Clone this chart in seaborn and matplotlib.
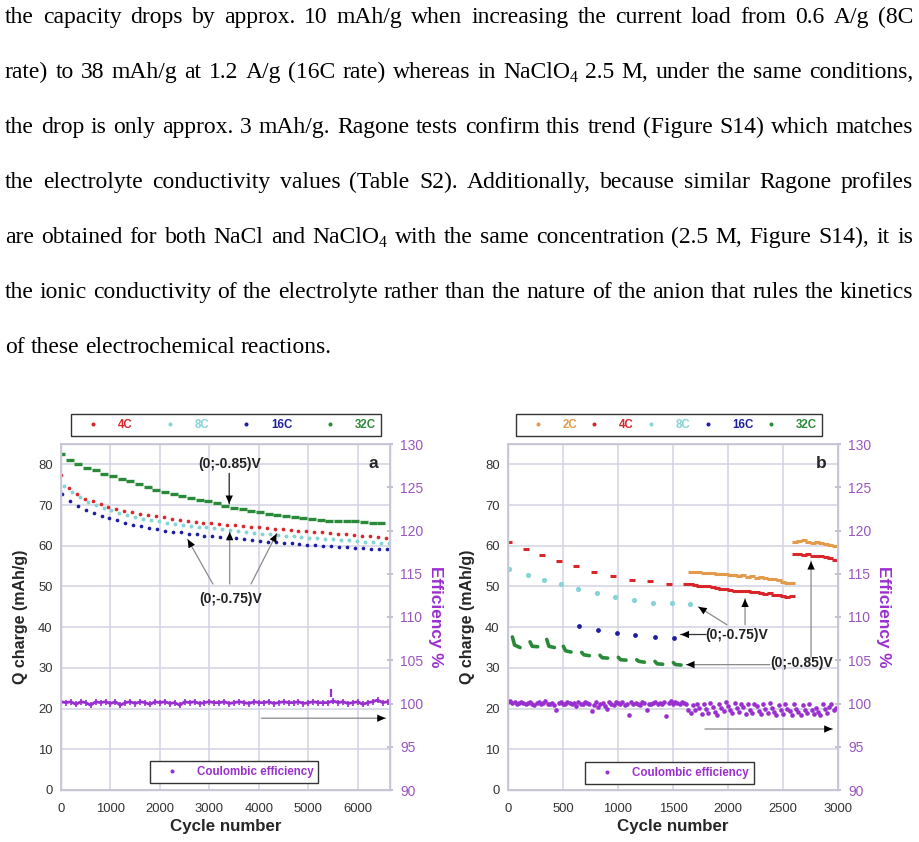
import matplotlib
matplotlib.use("Agg")
import matplotlib.pyplot as plt
import numpy as np
import pandas as pd
import seaborn as sns
from matplotlib.lines import Line2D

sns.set_theme(style="white")
plt.rcParams["font.family"] = ["Liberation Sans", "DejaVu Sans"]

# paragraph above the figure ("_4" marks a subscript 4)
paragraph = [
    "the capacity drops by approx. 10 mAh/g when increasing the current load from 0.6 A/g (8C",
    "rate) to 38 mAh/g at 1.2 A/g (16C rate) whereas in NaClO_4 2.5 M, under the same conditions,",
    "the drop is only approx. 3 mAh/g. Ragone tests confirm this trend (Figure S14) which matches",
    "the electrolyte conductivity values (Table S2). Additionally, because similar Ragone profiles",
    "are obtained for both NaCl and NaClO_4 with the same concentration (2.5 M, Figure S14), it is",
    "the ionic conductivity of the electrolyte rather than the nature of the anion that rules the kinetics",
    "of these electrochemical reactions.",
]

# ---- panel a: NaCl, 6600 cycles ----
cyc_a_dots = np.arange(0, 6561, 160)
red_a = [77.3, 74.2, 72.6, 71.6, 71.0, 70.3, 69.6, 69.0, 68.5, 68.2,
         67.9, 67.6, 67.3, 67.0, 66.6, 66.3, 66.1, 65.9, 65.7, 65.6,
         65.4, 65.2, 65.0, 64.9, 64.7, 64.5, 64.4, 64.2, 64.0, 63.9,
         63.7, 63.6, 63.5, 63.3, 63.2, 63.0, 62.9, 62.7, 62.5, 62.3,
         62.2, 62.0]
cyan_a = [74.8, 73.2, 71.9, 70.8, 70.0, 69.3, 68.7, 68.1, 67.5, 67.0,
          66.6, 66.3, 66.0, 65.7, 65.4, 65.2, 64.9, 64.7, 64.5, 64.3,
          64.1, 63.9, 63.7, 63.5, 63.2, 63.0, 62.8, 62.6, 62.5, 62.3,
          62.2, 62.0, 61.9, 61.7, 61.6, 61.4, 61.3, 61.1, 61.0, 60.9,
          60.8, 60.7]
blue_a = [72.6, 71.0, 69.8, 68.9, 68.1, 67.4, 66.8, 66.3, 65.7, 65.2,
          64.8, 64.4, 64.0, 63.7, 63.5, 63.3, 63.0, 62.8, 62.5, 62.3,
          62.1, 62.0, 61.8, 61.6, 61.4, 61.2, 61.0, 60.9, 60.7, 60.6,
          60.5, 60.3, 60.2, 60.0, 59.9, 59.8, 59.6, 59.5, 59.4, 59.3,
          59.2, 59.1]
cyc_a_green = np.arange(0, 6476, 175)
green_a = [82.5, 81.0, 80.0, 79.2, 78.5, 77.7, 77.1, 76.5, 75.8, 75.2,
           74.5, 73.8, 73.3, 72.8, 72.3, 71.8, 71.3, 70.9, 70.4, 69.8,
           69.4, 69.0, 68.6, 68.2, 67.9, 67.6, 67.3, 67.0, 66.8, 66.6,
           66.4, 66.2, 66.1, 66.1, 66.0, 65.8, 65.7, 65.5]
cyc_a_eff = np.arange(0, 6601, 100)
eff_a = [100.2, 100.1, 100.2, 99.9, 100.2, 100.1, 99.8, 100.2, 100.1, 100.2,
         100.0, 100.2, 99.8, 100.1, 100.2, 100.0, 100.2, 100.1, 99.9, 100.2,
         100.1, 100.2, 100.0, 100.1, 99.8, 100.2, 100.1, 100.2, 100.0, 100.1,
         100.2, 100.1, 100.1, 100.2, 100.0, 100.1, 100.2, 100.1, 100.0, 100.2,
         100.1, 100.1, 100.2, 100.0, 100.1, 100.2, 100.1, 100.1, 100.2, 100.0,
         100.1, 100.2, 100.1, 100.1, 100.1, 100.3, 100.1, 100.2, 100.0, 100.1,
         100.2, 99.9, 100.1, 100.2, 100.4, 100.1, 100.2]
spike_a_cyc = [5450]
spike_a_eff = [101.2]

# ---- panel b: NaClO4, 3000 cycles ----
red_b_cyc = [5, 160, 310, 460, 620, 785, 955, 1130, 1290, 1465,
             1620, 1660, 1700, 1740, 1780, 1820, 1860, 1900, 1940, 1980,
             2020, 2060, 2100, 2140, 2180, 2220, 2260, 2300, 2340, 2380,
             2420, 2460, 2500, 2540, 2580,
             2610, 2650, 2690, 2730, 2770, 2810, 2850, 2890, 2930, 2970]
red_b = [60.9, 59.3, 57.7, 56.3, 55.0, 53.6, 52.5, 51.7, 51.3, 50.5,
         50.5, 50.7, 50.4, 50.2, 50.0, 50.0, 49.8, 49.6, 49.5, 49.3,
         49.2, 49.0, 48.9, 48.8, 48.9, 48.6, 48.6, 48.4, 48.2, 48.3,
         48.0, 47.9, 47.6, 47.5, 47.6,
         57.9, 57.9, 57.7, 58.0, 57.6, 57.5, 57.4, 57.3, 57.0, 56.6]
orange_b_cyc = [1660, 1700, 1740, 1780, 1820, 1860, 1900, 1940, 1980, 2020,
                2060, 2100, 2140, 2180, 2220, 2260, 2300, 2340, 2380, 2420,
                2460, 2500, 2540, 2580,
                2610, 2650, 2690, 2730, 2770, 2810, 2850, 2890, 2930, 2970]
orange_b = [53.6, 53.5, 53.6, 53.4, 53.3, 53.4, 53.1, 53.0, 53.1, 52.8,
            52.9, 52.6, 52.7, 52.4, 52.5, 52.2, 52.3, 52.0, 51.8, 51.9,
            51.5, 51.2, 50.9, 50.8,
            60.9, 61.2, 61.4, 61.0, 60.8, 60.9, 60.6, 60.5, 60.3, 59.9]
cyan_b_cyc = [10, 180, 330, 480, 636, 805, 970, 1145, 1318, 1488, 1655]
cyan_b = [54.4, 52.9, 51.7, 50.7, 49.5, 48.3, 47.3, 46.6, 46.0, 46.0, 45.8]
blue_b_cyc = [645, 818, 990, 1155, 1336, 1509]
blue_b = [40.2, 39.4, 38.6, 38.0, 37.5, 37.4]
green_b_block = [1, 1, 1, 2, 2, 2, 3, 3, 3, 4, 4, 4, 5, 5, 5,
                 6, 6, 6, 7, 7, 7, 8, 8, 8, 9, 9, 9, 10, 10, 10]
green_b_cyc = [40, 60, 110, 200, 220, 270, 352, 372, 422, 503, 523, 573,
               670, 690, 740, 836, 856, 906, 1003, 1023, 1073, 1170, 1190, 1240,
               1336, 1356, 1406, 1503, 1523, 1573]
green_b = [37.6, 35.6, 35.0, 36.4, 35.3, 35.2, 37.0, 35.3, 35.0, 35.3, 34.2, 33.9,
           33.8, 33.2, 33.0, 33.1, 32.5, 32.4, 32.6, 32.0, 31.9, 32.0, 31.6, 31.4,
           31.6, 31.0, 30.9, 31.3, 30.8, 30.7]
cyc_b_eff = np.arange(0, 2981, 20)
eff_b = [100.2, 100.3, 100.1, 100.2, 100.0, 100.1, 100.2, 100.1, 99.9, 100.1,
         100.2, 100.0, 99.8, 100.1, 100.2, 100.0, 100.1, 100.3, 99.9, 100.0,
         100.1, 99.8, 99.3, 100.1, 100.2, 100.0, 99.9, 100.2, 100.1, 100.0,
         100.1, 99.7, 100.2, 100.0, 99.9, 100.2, 100.1, 100.0, 99.1, 99.8,
         100.2, 99.6, 99.9, 100.1, 99.7, 99.4, 100.2, 100.0, 99.8, 100.2,
         100.1, 99.9, 100.2, 99.8, 100.0, 98.7, 100.2, 99.9, 100.1, 100.0,
         99.8, 100.2, 100.1, 99.2, 100.0, 99.9, 100.1, 100.2, 99.9, 100.1,
         100.0, 100.2, 98.6, 100.1, 100.3, 100.0, 100.2, 100.1, 100.0, 100.2,
         100.1, 100.0, 99.3, 98.9, 99.8, 99.2, 100.0, 99.5, 98.8, 99.9,
         99.4, 98.9, 100.1, 99.6, 99.0, 98.7, 100.0, 99.5, 99.1, 100.2,
         99.7, 99.2, 98.9, 100.1, 99.5, 99.0, 100.0, 99.6, 98.8, 99.9,
         99.3, 98.9, 100.0, 99.7, 99.1, 98.8, 99.9, 99.4, 98.9, 100.1,
         99.5, 99.0, 98.7, 99.8, 99.3, 98.8, 100.0, 99.4, 99.1, 98.7,
         99.9, 99.4, 99.0, 98.7, 99.8, 99.2, 98.9, 99.9, 99.3, 98.8,
         99.5, 99.0, 98.7, 99.9, 99.4, 98.9, 99.6, 100.0, 99.2, 99.5]

RED, CYAN, BLUE, GREEN = "#d9262b", "#86d4d6", "#1f1f9e", "#2b8a3a"
ORANGE, PURPLE, PURPLE_T = "#e39a4a", "#9a2fd0", "#9b55bd"
GRID = "#d3d3e3"

fig = plt.figure(figsize=(9.2, 8.42), dpi=100)
W, H = 920, 842

# justified paragraph, words placed one by one
renderer = fig.canvas.get_renderer()
x_left, x_right = 5, 913
serif = dict(fontfamily="Liberation Serif", color="black", va="baseline")
for i, line in enumerate(paragraph):
    yb = 23 + 55 * i
    words = []
    for w in line.split():
        parts = w.split("_")
        objs = [fig.text(0, 1 - yb / H, parts[0], fontsize=17.0, **serif)]
        if len(parts) > 1:
            objs.append(fig.text(0, 1 - (yb + 4) / H, parts[1], fontsize=11.5, **serif))
        ws = [o.get_window_extent(renderer).width for o in objs]
        words.append((objs, ws))
    total = sum(sum(ws) for _, ws in words)
    if i < len(paragraph) - 1:
        gap = (x_right - x_left - total) / (len(words) - 1)
    else:
        gap = 5.9
    x = x_left
    for objs, ws in words:
        for o, wd in zip(objs, ws):
            o.set_x(x / W)
            x += wd
        x += gap

ax_a = fig.add_axes([61 / W, 52 / H, 329 / W, 346 / H])
ax_b = fig.add_axes([508 / W, 52 / H, 330 / W, 346 / H])


def style_axes(ax, xmax, xstep):
    ax.set_xlim(0, xmax)
    ax.set_ylim(0, 85)
    ax.set_xticks(np.arange(0, xmax + 1, xstep))
    ax.set_yticks(np.arange(0, 81, 10))
    ax.grid(True, color=GRID, lw=1.1)
    ax.set_axisbelow(True)
    for s in ax.spines.values():
        s.set_color("#c6c6d6")
        s.set_linewidth(1.0)
    ax.tick_params(axis="both", length=0, labelsize=9.4, labelcolor="#333333")
    ax.tick_params(axis="x", pad=9)
    ax.tick_params(axis="y", pad=6)
    axr = ax.twinx()
    axr.set_ylim(90, 130)
    axr.set_yticks(np.arange(90, 131, 5))
    axr.tick_params(axis="y", direction="inout", length=5, color="#b8b8c8",
                    labelsize=10, labelcolor=PURPLE_T, pad=5)
    for s in axr.spines.values():
        s.set_color("#c6c6d6")
    axr.grid(False)
    return axr


axr_a = style_axes(ax_a, 6650, 1000)
axr_b = style_axes(ax_b, 3000, 500)
ax_a.set_xticks(np.arange(0, 6001, 1000))

# panel a marks
sns.scatterplot(x=cyc_a_dots, y=red_a, ax=ax_a, color=RED, s=7, linewidth=0)
sns.scatterplot(x=cyc_a_dots + 60, y=cyan_a, ax=ax_a, color=CYAN, s=8, linewidth=0)
sns.scatterplot(x=cyc_a_dots + 20, y=blue_a, ax=ax_a, color=BLUE, s=7, linewidth=0)
sns.scatterplot(x=cyc_a_green, y=green_a, ax=ax_a, color=GREEN, marker="_", s=30,
                linewidth=2.4, edgecolor=GREEN)
sns.lineplot(x=cyc_a_eff, y=eff_a, ax=axr_a, color=PURPLE, lw=2.0)
sns.scatterplot(x=cyc_a_eff, y=eff_a, ax=axr_a, color=PURPLE, marker="|", s=14,
                linewidth=1.2, edgecolor=PURPLE)
sns.scatterplot(x=spike_a_cyc, y=spike_a_eff, ax=axr_a, color=PURPLE, marker="|", s=40,
                linewidth=1.6, edgecolor=PURPLE)

# panel b marks
sns.scatterplot(x=red_b_cyc, y=red_b, ax=ax_b, color=RED, marker="_", s=16,
                linewidth=2.2, edgecolor=RED)
sns.scatterplot(x=orange_b_cyc, y=orange_b, ax=ax_b, color=ORANGE, marker="_", s=16,
                linewidth=2.2, edgecolor=ORANGE)
sns.scatterplot(x=cyan_b_cyc, y=cyan_b, ax=ax_b, color=CYAN, s=14, linewidth=0)
sns.scatterplot(x=blue_b_cyc, y=blue_b, ax=ax_b, color=BLUE, s=12, linewidth=0)
green_df = pd.DataFrame({"cycle": green_b_cyc, "q": green_b, "block": green_b_block})
sns.lineplot(data=green_df, x="cycle", y="q", units="block", estimator=None, ax=ax_b,
             color=GREEN, lw=2.6)
sns.scatterplot(x=cyc_b_eff, y=eff_b, ax=axr_b, color=PURPLE, s=11, linewidth=0)

for axr in (axr_a, axr_b):
    axr.set_xlabel("")
    axr.set_ylabel("Efficiency %", fontsize=12.4, fontweight="bold", color=PURPLE,
                   rotation=270, va="bottom", labelpad=3)
for ax in (ax_a, ax_b):
    ax.set_xlabel("Cycle number", fontsize=12.2, fontweight="bold", labelpad=3)
    ax.set_ylabel("Q charge (mAh/g)", fontsize=11.5, fontweight="bold", labelpad=7)

# panel letters
ax_a.text(0.965, 0.945, "a", transform=ax_a.transAxes, ha="right", va="center",
          fontsize=12.5, fontweight="bold")
ax_b.text(0.965, 0.945, "b", transform=ax_b.transAxes, ha="right", va="center",
          fontsize=12.5, fontweight="bold")

ann = dict(fontsize=10, fontweight="bold", color="#222222", ha="center", va="center")


def arrow(ax, start, tip, line_color="#8a8a8a"):
    ax.annotate("", xy=tip, xytext=start,
                arrowprops=dict(arrowstyle="-", color=line_color, lw=0.9, shrinkA=0, shrinkB=0))
    ax.annotate("", xy=tip, xytext=start,
                arrowprops=dict(arrowstyle="-|>,head_length=0.5,head_width=0.22",
                                color="black", lw=0, shrinkA=0, shrinkB=0))


# panel a annotations
ax_a.text(3400, 80.2, "(0;-0.85)V", **ann)
arrow(ax_a, (3400, 77.8), (3400, 70.3), line_color="#222222")
ax_a.text(3420, 47.0, "(0;-0.75)V", **ann)
arrow(ax_a, (3070, 50.6), (2560, 61.6))
arrow(ax_a, (3410, 50.6), (3410, 63.4))
arrow(ax_a, (3840, 50.6), (4360, 63.0))
arrow(axr_a, (4050, 98.3), (6560, 98.3))

# panel b annotations
ax_b.text(2082, 38.0, "(0;-0.75)V", **ann)
arrow(ax_b, (1800, 38.2), (1570, 38.2), line_color="#333333")
arrow(ax_b, (1990, 40.6), (1730, 45.0))
arrow(ax_b, (2155, 40.6), (2155, 47.0))
ax_b.text(2673, 31.2, "(0;-0.85)V", **ann)
arrow(ax_b, (2380, 30.8), (1620, 30.8))
arrow(ax_b, (2755, 32.6), (2755, 56.2))
arrow(axr_b, (1790, 97.05), (2950, 97.05))

# legends


def dot(c):
    return Line2D([], [], marker="o", ls="", color=c, markersize=1.9)


def box_legend(handles, labels, colors, x0, y0, x1, y1):
    leg = fig.legend(handles, labels, loc="center", ncol=len(labels), mode="expand",
                     bbox_to_anchor=(x0 / W, 1 - y1 / H, (x1 - x0) / W, (y1 - y0) / H),
                     frameon=True, fancybox=False, edgecolor="#333333", framealpha=1,
                     prop=dict(weight="bold", size=8.3), handletextpad=0.7,
                     handlelength=2.9, borderaxespad=0, borderpad=0.45)
    leg.get_frame().set_linewidth(1.0)
    for t, c in zip(leg.get_texts(), colors):
        t.set_color(c)
    return leg


rates_a = ["4C", "8C", "16C", "32C"]
cols_a = [RED, CYAN, BLUE, GREEN]
box_legend([dot(c) for c in cols_a], rates_a, cols_a, 71, 413, 381, 437)
rates_b = ["2C", "4C", "8C", "16C", "32C"]
cols_b = [ORANGE, RED, CYAN, BLUE, GREEN]
box_legend([dot(c) for c in cols_b], rates_b, cols_b, 516, 413, 822, 437)
box_legend([dot(PURPLE)], ["Coulombic efficiency"], [PURPLE], 150, 760, 318, 784)
box_legend([dot(PURPLE)], ["Coulombic efficiency"], [PURPLE], 585, 761, 754, 785)

fig.savefig("out.png", dpi=100, facecolor="white")
